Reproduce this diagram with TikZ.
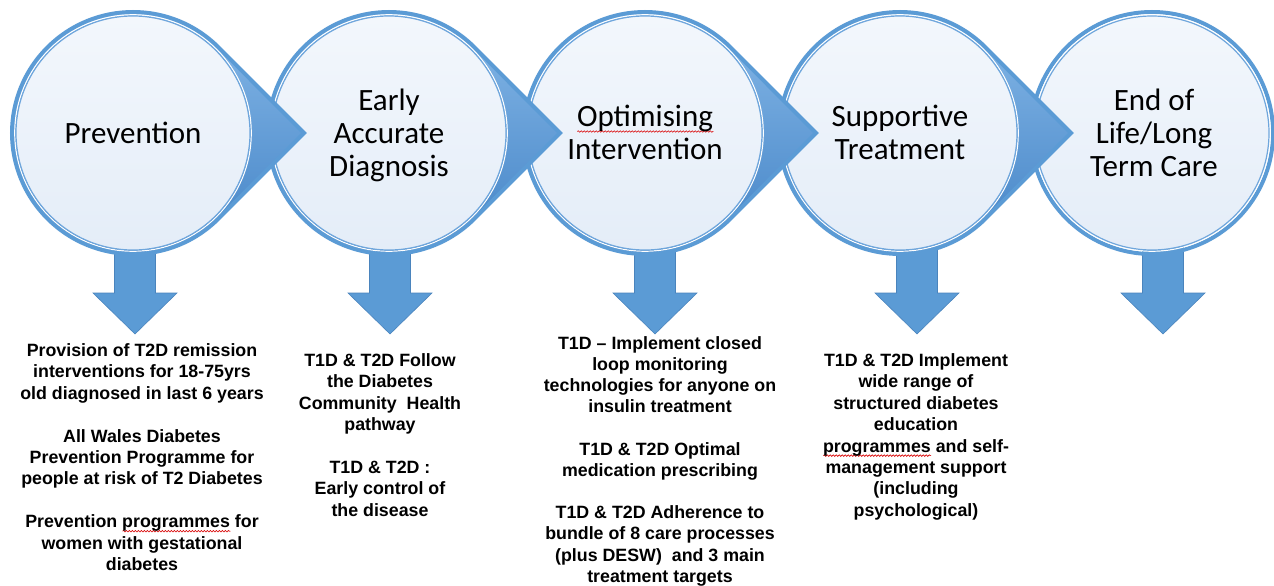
\documentclass[tikz,border=0pt]{standalone}
\usepackage{fontspec}
\setmainfont{Liberation Sans}
\newfontfamily\calibri{Carlito}
\usetikzlibrary{decorations.pathmorphing}
\definecolor{rimblue}{HTML}{5B9BD5}
\definecolor{innerline}{HTML}{6FA6DC}
\definecolor{ptrtop}{HTML}{8BBCEA}
\definecolor{ptrbot}{HTML}{3F80C4}
\definecolor{fillTop}{HTML}{F3F7FC}
\definecolor{fillBot}{HTML}{E4EDF8}
\definecolor{arrowfill}{HTML}{5B9BD5}
\definecolor{arrowedge}{HTML}{4A84BD}
\newsavebox\swbox
\newlength\swlen
\newcommand\spellwave[2][3.5pt]{\sbox\swbox{#2}\setlength\swlen{\wd\swbox}%
  \rlap{\raisebox{-#1}{\tikz[baseline=0pt]\draw[red!85!black, line width=0.6pt, decorate,
    decoration={snake, amplitude=0.8pt, segment length=3pt}] (0pt,0pt) -- (\swlen,0pt);}}%
  \usebox\swbox}
\newcommand\ctop{\rule{0pt}{28pt}}
\newcommand\cbot{\rule[-8pt]{0pt}{8pt}}
\tikzset{
  pics/stepcircle/.style={code={
    \path[top color=ptrtop, bottom color=ptrbot]
      (45:121pt) arc[start angle=45, end angle=315, radius=121pt] -- (171pt,0pt) -- cycle;
    \draw[rimblue, line width=4pt, line join=miter]
      (45:121pt) arc[start angle=45, end angle=315, radius=121pt] -- (171pt,0pt) -- cycle;
    \draw[white, line width=1.2pt] (0,0) circle[radius=118.2pt];
    \draw[innerline, line width=1.2pt, top color=fillTop, bottom color=fillBot]
      (0,0) circle[radius=117pt];
  }},
  pics/endcircle/.style={code={
    \draw[rimblue, line width=4pt] (0,0) circle[radius=121pt];
    \draw[white, line width=1.2pt] (0,0) circle[radius=118.2pt];
    \draw[innerline, line width=1.2pt, top color=fillTop, bottom color=fillBot]
      (0,0) circle[radius=117pt];
  }},
  downarrow/.style={fill=arrowfill, draw=arrowedge, line width=0.6pt, line join=miter},
  ctext/.style={align=center, inner sep=0pt, text=black,
    font=\calibri\fontsize{31}{33}\selectfont},
  btext/.style={align=center, inner sep=0pt, anchor=north, text=black,
    font=\fontsize{17.8}{21.4}\selectfont\bfseries},
}
\begin{document}
\begin{tikzpicture}[x=1pt,y=1pt]
\useasboundingbox (0,0) rectangle (1274,-586);
\fill[white] (0,0) rectangle (1274,-586);

% down arrows (behind the circles)
\foreach \ax in {135,390,655,917,1163}{
  \path[downarrow] (\ax-20.5,-245) -- (\ax+20.5,-245) -- (\ax+20.5,-293)
    -- (\ax+42,-293) -- (\ax,-334) -- (\ax-42,-293) -- (\ax-20.5,-293) -- cycle;
}

% circles, drawn right to left so each pointer lies over the next circle
\pic at (1152,-133) {endcircle};
\pic at (900,-133) {stepcircle};
\pic at (645,-133) {stepcircle};
\pic at (389,-133) {stepcircle};
\pic at (133,-133) {stepcircle};

% circle labels
\node[ctext] (c1) at (133,-133) {\ctop Prevention\cbot};
\node[ctext] (c2) at (389,-133) {\ctop Early\\Accurate\\Diagnosis\cbot};
\node[ctext] (c3) at (645,-133) {\ctop\spellwave[5pt]{Optimising}\\Intervention\cbot};
\node[ctext] (c4) at (900,-133) {\ctop Supportive\\Treatment\cbot};
\node[ctext] (c5) at (1154,-133) {\ctop End of\\Life/Long\\Term Care\cbot};

% text blocks
\node[btext] (t1) at (142,-343.4) {Provision of T2D remission\\
interventions for 18-75yrs\\
old diagnosed in last 6 years\\[21.4pt]
All Wales Diabetes\\
Prevention Programme for\\
people at risk of T2 Diabetes\\[21.4pt]
Prevention \spellwave{programmes} for\\
women with gestational\\
diabetes};

\node[btext] (t2) at (380,-353.4) {T1D \& T2D Follow\\
the Diabetes\\
Community\ \ Health\\
pathway\\[21.4pt]
T1D \& T2D :\\
Early control of\\
the disease};

\node[btext, font=\fontsize{17.8}{21.2}\selectfont\bfseries] (t3) at (660,-335.9) {T1D – Implement closed\\
loop monitoring\\
technologies for anyone on\\
insulin treatment\\[21.2pt]
T1D \& T2D Optimal\\
medication prescribing\\[21.2pt]
T1D \& T2D Adherence to\\
bundle of 8 care processes\\
(plus DESW)\ \ and 3 main\\
treatment targets};

\node[btext] (t4) at (916,-353.4) {T1D \& T2D Implement\\
wide range of\\
structured diabetes\\
education\\
\spellwave{programmes} and self-\\
management support\\
(including\\
psychological)};
\end{tikzpicture}
\end{document}
